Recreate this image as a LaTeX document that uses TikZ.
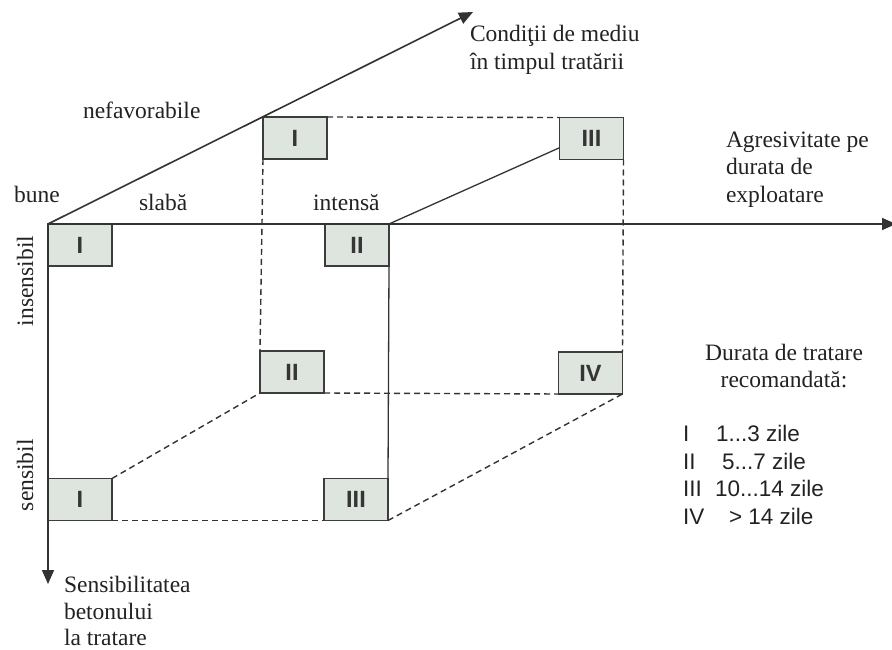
\documentclass[tikz,border=0pt]{standalone}
\usepackage{fontspec}
\setmainfont{Liberation Serif}
\newfontfamily\sansf{Liberation Sans}
\usetikzlibrary{arrows.meta,calc}
\definecolor{boxfill}{HTML}{DEE4DE}
\definecolor{boxline}{HTML}{3C3C3C}
\definecolor{linecol}{HTML}{333333}
\definecolor{txt}{HTML}{222222}
\definecolor{numcol}{HTML}{353535}
\tikzset{
  numbox/.style={draw=boxline, fill=boxfill, line width=1.6pt, minimum width=64pt, minimum height=42pt,
    inner sep=0pt, outer sep=0pt, font=\sansf\bfseries\fontsize{23.5}{24}\selectfont, text=numcol},
  serif/.style={inner sep=0pt, outer sep=0pt, anchor=base west, font=\fontsize{23.5}{27}\selectfont, text=txt},
  leg/.style={inner sep=0pt, outer sep=0pt, anchor=base west, font=\sansf\fontsize{22.5}{24}\selectfont, text=txt},
  dsh/.style={dash pattern=on 6pt off 4pt, line width=1.4pt, draw=linecol},
  solidln/.style={line width=1.3pt, draw=linecol},
  axisln/.style={line width=1.6pt, draw=linecol, -{Triangle[length=14pt,width=12pt]}}
}
\begin{document}
\begin{tikzpicture}[x=1pt,y=-1pt]
\useasboundingbox (0,0) rectangle (892,650);
% boxes
\node[numbox] (fI) at (80,245) {I};
\node[numbox] (fII) at (357,245) {II};
\node[numbox] (bI) at (295,138) {I};
\node[numbox] (bIII) at (591.5,138.5) {III};
\node[numbox] (bII) at (292,372) {II};
\node[numbox] (bIV) at (590.5,373) {IV};
\node[numbox] (flI) at (80,499.5) {I};
\node[numbox] (flIII) at (356,499.5) {III};
% axis end points
\coordinate (vtip) at (48,584);
\coordinate (htip) at (896,224);
\coordinate (dtip) at (473,12);
\coordinate (bIIIin) at ($(bIII.south west)!0.28!(bIII.north west)$);
% axes
\draw[axisln] (fI.north west) -- (vtip);
\draw[axisln] (fI.north west) -- (htip);
\draw[axisln] (fI.north west) -- (dtip);
% solid cube edges
\draw[solidln] (fII.north east) -- (bIIIin);
\draw[solidln] (fII.south east) -- (flIII.north east);
% dashed cube edges
\draw[dsh] (bI.north east) -- (bIII.north west);
\draw[dsh] (bI.south west) -- (bII.north west);
\draw[dsh] (bIII.south east) -- (bIV.north east);
\draw[dsh] (bII.south east) -- (bIV.south west);
\draw[dsh] (flI.north east) -- (bII.south west);
\draw[dsh] (flI.south east) -- (flIII.south west);
\draw[dsh] (flIII.south east) -- (bIV.south east);
% serif labels
\node[serif] (cond1) at (470,42) {Condiţii de mediu};
\node[serif] (cond2) at (470,70) {în timpul tratării};
\node[serif] (nefav) at (83,119) {nefavorabile};
\node[serif] (bune) at (14,203) {bune};
\node[serif] (slaba) at (139,211) {slabă};
\node[serif] (intensa) at (313,211) {intensă};
\node[serif] (agr1) at (726,148) {Agresivitate pe};
\node[serif] (agr2) at (726,175) {durata de};
\node[serif] (agr3) at (726,202) {exploatare};
\node[serif] (sens1) at (64,592) {Sensibilitatea};
\node[serif] (sens2) at (64,619) {betonului};
\node[serif] (sens3) at (64,645.5) {la tratare};
\node[serif, rotate=90] (insens) at (33,326) {insensibil};
\node[serif, rotate=90] (sensib) at (33,511) {sensibil};
\node[serif, anchor=base] (dur1) at (784,360) {Durata de tratare};
\node[serif, anchor=base] (dur2) at (784,387) {recomandată:};
% legend
\node[leg] (l1) at (683,441) {I};
\node[leg] (t1) at (716,441) {1...3 zile};
\node[leg] (l2) at (683,469) {II};
\node[leg] (t2) at (722,469) {5...7 zile};
\node[leg] (l3) at (683,496) {III};
\node[leg] (t3) at (715,496) {10...14 zile};
\node[leg] (l4) at (683,524) {IV};
\node[leg] (t4) at (729,524) {> 14 zile};
\end{tikzpicture}
\end{document}
